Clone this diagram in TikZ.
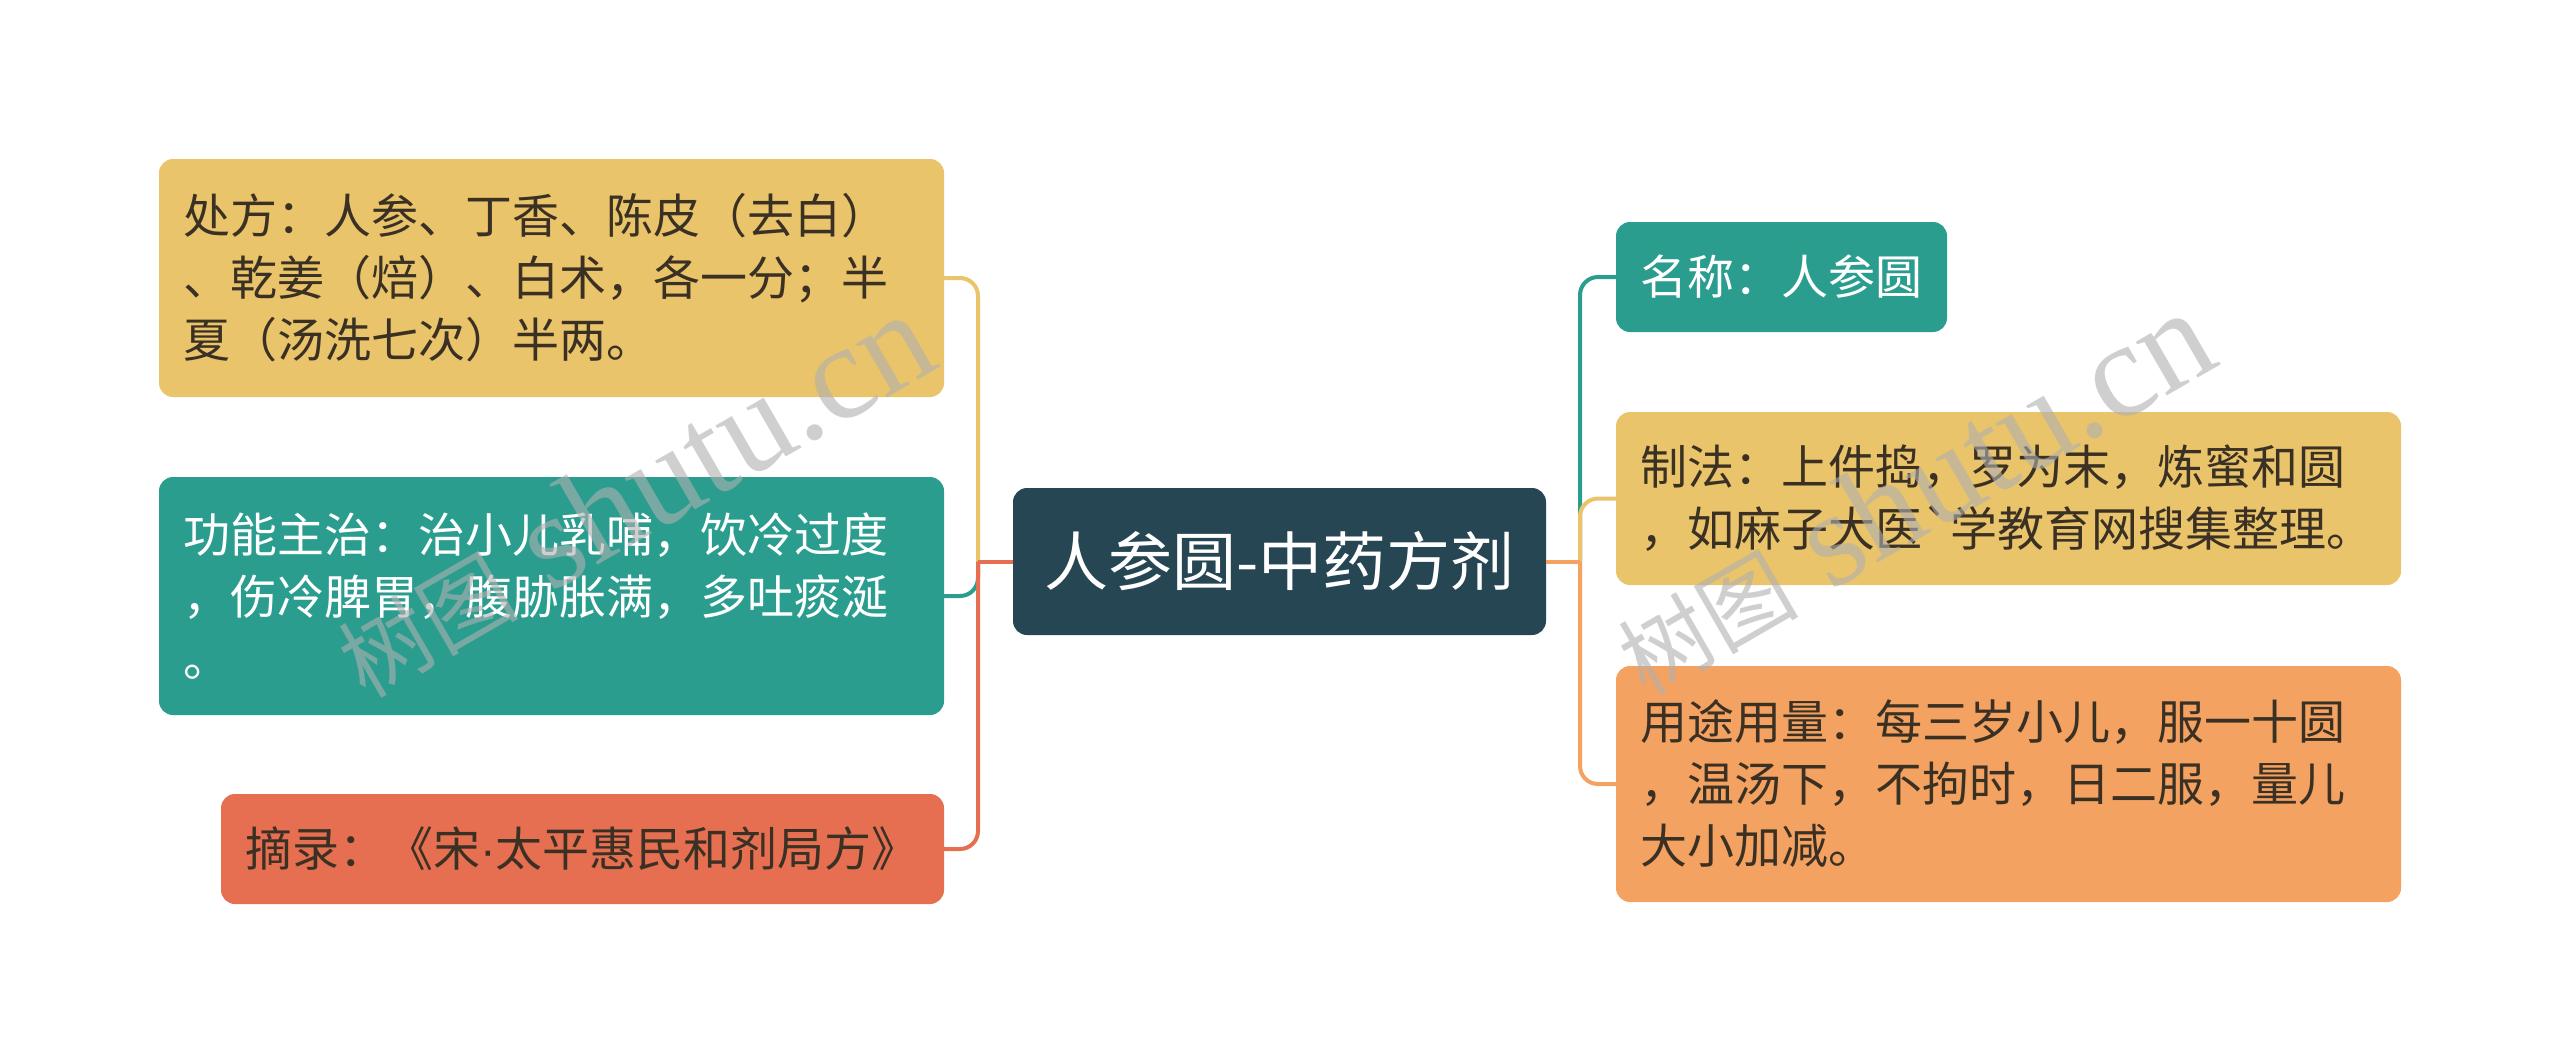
\documentclass[tikz,border=0pt]{standalone}
\usepackage{fontspec}
\setmainfont{Noto Sans CJK SC}
\newfontfamily\cjk{Noto Sans CJK SC}
\newfontfamily\latsans{Liberation Sans}
\newfontfamily\wmlatin{Liberation Serif}
\definecolor{cdark}{HTML}{264653}
\definecolor{cteal}{HTML}{2A9D8F}
\definecolor{cyel}{HTML}{E9C46A}
\definecolor{corange}{HTML}{F4A261}
\definecolor{cred}{HTML}{E76F51}
\definecolor{ctxt}{HTML}{3A3124}
\definecolor{cwm}{HTML}{B0B0B0}
\begin{document}
\begin{tikzpicture}[x=1pt,y=-1pt,
  box/.style={rectangle, rounded corners=14pt, inner xsep=24pt, inner ysep=0pt,
    align=left, font=\cjk\fontsize{47}{62}\selectfont},
  cbox/.style={rectangle, rounded corners=14pt, inner sep=0pt, fill=cdark, text=white,
    minimum width=533pt, minimum height=147pt, font=\cjk\fontsize{64}{76}\selectfont},
  conn/.style={line width=4pt, rounded corners=18pt},
  wm/.style={inner sep=0pt, text=cwm, text opacity=0.6,
    font=\wmlatin\fontsize{135}{135}\selectfont}]
\useasboundingbox (0,0) rectangle (2560,1061);
\fill[white] (0,0) rectangle (2560,1061);

\node[cbox] (c) at (1279.5,561.5) {人参圆-中药方剂};

\node[box, fill=cyel, text=ctxt, text width=737pt, minimum height=238pt] (b1) at (551.5,278)
  {处方：人参、丁香、陈皮（去白）\\、乾姜（焙）、白术，各一分；半\\夏（汤洗七次）半两。};
\node[box, fill=cteal, text=white, text width=737pt, minimum height=238pt] (b2) at (551.5,596)
  {功能主治：治小儿乳哺，饮冷过度\\，伤冷脾胃，腹胁胀满，多吐痰涎\\。};
\node[box, fill=cred, text=ctxt, text width=675pt, minimum height=110pt] (b3) at (582.5,849)
  {摘录：《宋{\latsans ·}太平惠民和剂局方》};

\node[box, fill=cteal, text=white, text width=283pt, minimum height=110pt] (r1) at (1781.5,277)
  {名称：人参圆};
\node[box, fill=cyel, text=ctxt, text width=737pt, minimum height=173pt] (r2) at (2008.5,498.5)
  {制法：上件捣，罗为末，炼蜜和圆\\，如麻子大医`学教育网搜集整理。};
\node[box, fill=corange, text=ctxt, text width=737pt, minimum height=236pt] (r3) at (2008.5,784)
  {用途用量：每三岁小儿，服一十圆\\，温汤下，不拘时，日二服，量儿\\大小加减。};

\coordinate (lt) at (978,561.5);
\coordinate (rt) at (1580,561.5);

\draw[conn, cyel] (lt) |- (b1.east);
\draw[conn, cteal] (lt) |- (b2.east);
\draw[conn, cred] (lt) |- (b3.east);
\draw[conn, cred] (c.west) -- (lt);

\draw[conn, cteal] (rt) |- (r1.west);
\draw[conn, cyel] (rt) |- (r2.west);
\draw[conn, corange] (rt) |- (r3.west);
\draw[conn, corange] (c.east) -- (rt);

\node[wm, rotate=30, anchor=base west] (w1) at (365,700)
  {{\cjk\fontsize{90}{90}\selectfont 树图} shutu.cn};
\node[wm, rotate=30, anchor=base west] (w2) at (1645,698)
  {{\cjk\fontsize{90}{90}\selectfont 树图} shutu.cn};
\end{tikzpicture}
\end{document}
